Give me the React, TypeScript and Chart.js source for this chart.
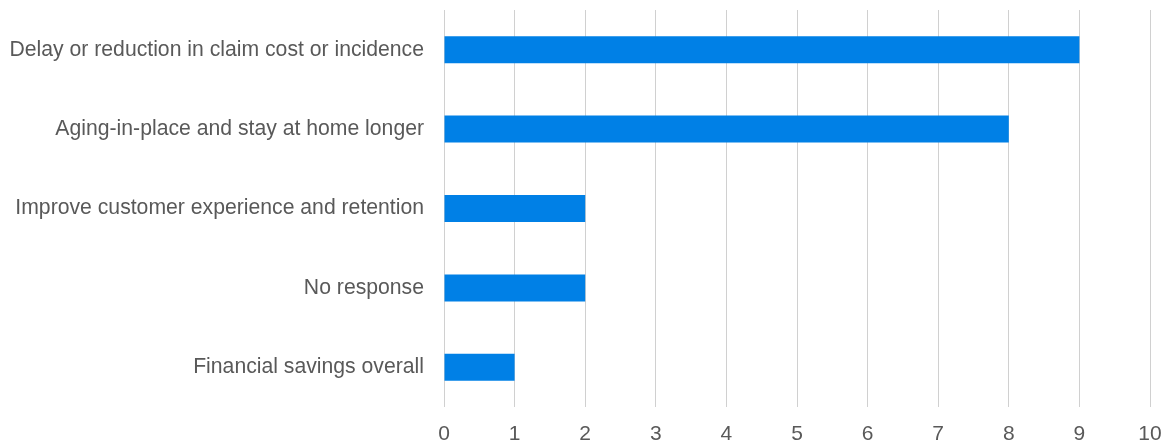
import React, { useEffect, useRef } from "react";
import { Chart, registerables } from "chart.js";

Chart.register(...registerables);

const categories = [
  "Delay or reduction in claim cost or incidence",
  "Aging-in-place and stay at home longer",
  "Improve customer experience and retention",
  "No response",
  "Financial savings overall",
];
const values = [9, 8, 2, 2, 1];
const xMin = 0;
const xMax = 10;

export default function App() {
  const ref = useRef<HTMLCanvasElement>(null);
  useEffect(() => {
    document.body.style.margin = "0";
    const ctx = ref.current!;
    const chart = new Chart(ctx, {
      type: "bar",
      data: {
        labels: categories,
        datasets: [
          {
            data: values,
            backgroundColor: "#0080E6",
            borderWidth: 0,
            barPercentage: 0.34,
            categoryPercentage: 1,
          },
        ],
      },
      options: {
        indexAxis: "y",
        animation: false,
        responsive: false,
        maintainAspectRatio: false,
        layout: { padding: { top: 10, right: 17, bottom: 0, left: 0 } },
        plugins: { legend: { display: false }, tooltip: { enabled: false } },
        scales: {
          x: {
            min: xMin,
            max: xMax,
            ticks: {
              stepSize: 1,
              color: "#595959",
              font: { family: "'Liberation Sans', Arial, sans-serif", size: 21 },
              padding: 15,
            },
            grid: { color: "#D0D0D0", lineWidth: 1, drawTicks: false },
            border: { display: false },
            afterFit: (s: any) => {
              s.height = 38;
              s.paddingLeft = 0;
              s.paddingRight = 0;
            },
          },
          y: {
            ticks: {
              color: "#595959",
              font: { family: "'Liberation Sans', Arial, sans-serif", size: 21.2 },
              padding: 20,
            },
            grid: { display: false, drawTicks: false },
            border: { display: false },
            afterFit: (s: any) => {
              s.width = 444;
              s.paddingTop = 0;
              s.paddingBottom = 0;
            },
          },
        },
      },
    });
    return () => chart.destroy();
  }, []);
  return (
    <div style={{ width: 1167, height: 445 }}>
      <canvas ref={ref} width={1167} height={445} style={{ display: "block" }} />
    </div>
  );
}
